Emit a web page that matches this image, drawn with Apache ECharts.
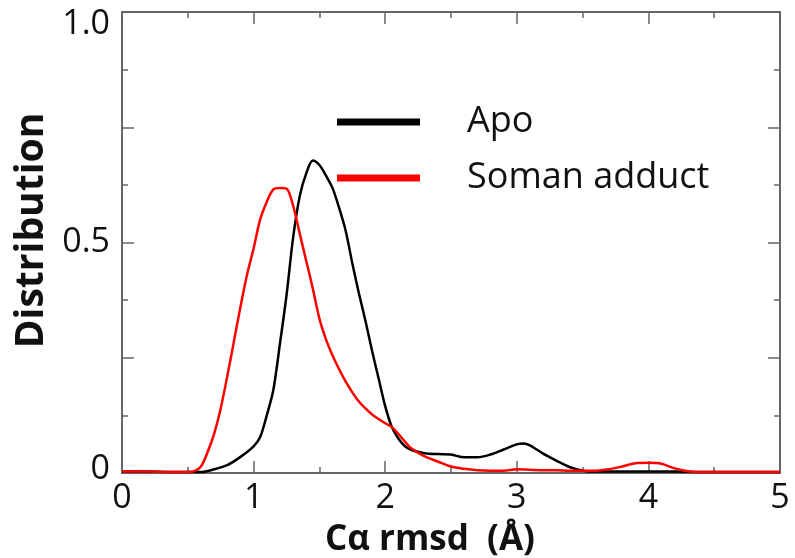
<!DOCTYPE html>
<html>
<head>
<meta charset="utf-8">
<script src="https://cdn.jsdelivr.net/npm/echarts@6/dist/echarts.min.js"></script>
<style>
  html, body { margin: 0; padding: 0; background: #fff; }
  #chart { width: 795px; height: 558px; }
</style>
</head>
<body>
<div id="chart"></div>
<script>
// Cα rmsd distributions (Å) for the apo enzyme and the soman adduct
const apoRmsd = [0, 0.2, 0.4, 0.5, 0.6, 0.7, 0.8, 0.9, 1.0, 1.05, 1.1, 1.15, 1.2, 1.25, 1.3, 1.35, 1.4, 1.45, 1.5, 1.55, 1.6, 1.65, 1.7, 1.75, 1.8, 1.85, 1.9, 1.95, 2.0, 2.05, 2.1, 2.15, 2.2, 2.3, 2.4, 2.5, 2.6, 2.7, 2.8, 2.9, 3.0, 3.05, 3.1, 3.2, 3.3, 3.4, 3.5, 3.6, 3.8, 4.0, 4.2, 4.4, 4.6, 4.8, 5.0];
const apoDist = [0.004, 0.003, 0.002, 0.002, 0.002, 0.008, 0.017, 0.035, 0.058, 0.078, 0.125, 0.18, 0.28, 0.385, 0.51, 0.6, 0.65, 0.678, 0.668, 0.645, 0.618, 0.575, 0.525, 0.455, 0.39, 0.33, 0.265, 0.205, 0.145, 0.1, 0.075, 0.058, 0.05, 0.043, 0.041, 0.04, 0.034, 0.034, 0.04, 0.051, 0.062, 0.064, 0.06, 0.042, 0.027, 0.013, 0.005, 0.003, 0.003, 0.003, 0.003, 0.002, 0.002, 0.002, 0.002];

const somanRmsd = [0, 0.2, 0.4, 0.5, 0.55, 0.6, 0.65, 0.7, 0.75, 0.8, 0.85, 0.9, 0.95, 1.0, 1.05, 1.1, 1.15, 1.2, 1.25, 1.3, 1.35, 1.4, 1.45, 1.5, 1.55, 1.6, 1.65, 1.7, 1.75, 1.8, 1.85, 1.9, 1.95, 2.0, 2.05, 2.1, 2.15, 2.2, 2.3, 2.4, 2.5, 2.6, 2.7, 2.8, 2.9, 3.0, 3.1, 3.2, 3.3, 3.4, 3.5, 3.6, 3.7, 3.8, 3.9, 4.0, 4.1, 4.2, 4.3, 4.4, 4.6, 5.0];
const somanDist = [0.004, 0.003, 0.002, 0.002, 0.004, 0.014, 0.045, 0.085, 0.14, 0.21, 0.285, 0.36, 0.43, 0.487, 0.55, 0.588, 0.615, 0.618, 0.617, 0.58, 0.52, 0.46, 0.4, 0.335, 0.29, 0.255, 0.225, 0.198, 0.175, 0.155, 0.14, 0.127, 0.117, 0.108, 0.1, 0.085, 0.068, 0.053, 0.036, 0.025, 0.014, 0.009, 0.006, 0.005, 0.005, 0.008, 0.007, 0.006, 0.006, 0.005, 0.005, 0.005, 0.008, 0.014, 0.021, 0.022, 0.02, 0.01, 0.004, 0.002, 0.002, 0.002];

const seriesNames = ['Apo', 'Soman adduct'];
const seriesColors = ['#000000', '#ff0000'];
const xTickLabels = ['0', '1', '2', '3', '4', '5'];
const yTickLabels = { 0: '0', 0.5: '0.5', 1: '1.0' };

const pairs = (xs, ys) => xs.map((x, i) => [x, ys[i]]);

const frameColor = '#666';
const textFont = '"Open Sans", "DejaVu Sans", sans-serif';

// fresh style objects for every axis of the box frame
const axisLineOpt = () => ({ show: true, onZero: false, lineStyle: { color: frameColor, width: 2 } });
const axisTickOpt = () => ({ show: true, inside: true, length: 12, lineStyle: { color: frameColor, width: 1.5 } });
const minorTickOpt = () => ({ show: true, splitNumber: 2, length: 6, lineStyle: { color: frameColor, width: 1.5 } });

const chart = echarts.init(document.getElementById('chart'), null, { renderer: 'canvas' });
chart.setOption({
  animation: false,
  backgroundColor: '#fff',
  grid: { left: 122, right: 15, top: 12, bottom: 85, containLabel: false, outerBoundsMode: 'none' },
  legend: {
    orient: 'vertical',
    left: 337,
    top: 102,
    padding: 0,
    itemWidth: 83,
    itemHeight: 7,
    itemGap: 16,
    icon: 'rect',
    textStyle: { fontFamily: textFont, fontSize: 36, color: '#111', lineHeight: 40, padding: [0, 0, 0, 42] },
    data: seriesNames
  },
  xAxis: [
    {
      type: 'value', min: 0, max: 5, interval: 1, position: 'bottom',
      name: 'Cα rmsd  (Å)', nameLocation: 'middle', nameGap: 50,
      nameTextStyle: { fontFamily: textFont, fontSize: 35, fontWeight: 'bold', color: '#111', padding: [0, 42, 0, 0] },
      axisLine: axisLineOpt(), axisTick: axisTickOpt(), minorTick: minorTickOpt(), splitLine: { show: false },
      axisLabel: { margin: 8, fontFamily: textFont, fontSize: 34, color: '#111',
        formatter: v => xTickLabels[Math.round(v)] }
    },
    {
      type: 'value', min: 0, max: 5, interval: 1, position: 'top',
      axisLine: axisLineOpt(), axisTick: axisTickOpt(), minorTick: minorTickOpt(), splitLine: { show: false },
      axisLabel: { show: false }
    }
  ],
  yAxis: [
    {
      type: 'value', min: 0, max: 1, interval: 0.25, position: 'left',
      name: 'Distribution', nameLocation: 'middle', nameGap: 68,
      nameTextStyle: { fontFamily: textFont, fontSize: 39, fontWeight: 'bold', color: '#111', padding: [0, 0, 0, 24] },
      axisLine: axisLineOpt(), axisTick: axisTickOpt(), minorTick: minorTickOpt(), splitLine: { show: false },
      axisLabel: {
        margin: 12, fontFamily: textFont, fontSize: 34, color: '#111',
        formatter: v => {
          if (yTickLabels[v] === undefined) return '';
          if (v === 1) return '{top|' + yTickLabels[v] + '}';
          if (v === 0) return '{low|' + yTickLabels[v] + '}';
          return yTickLabels[v];
        },
        rich: {
          top: { fontFamily: textFont, fontSize: 34, color: '#111', padding: [24, 0, 0, 0] },
          low: { fontFamily: textFont, fontSize: 34, color: '#111', padding: [0, 0, 8, 0] }
        }
      }
    },
    {
      type: 'value', min: 0, max: 1, interval: 0.25, position: 'right',
      axisLine: axisLineOpt(), axisTick: axisTickOpt(), minorTick: minorTickOpt(), splitLine: { show: false },
      axisLabel: { show: false }
    }
  ],
  series: [
    {
      name: seriesNames[0], type: 'line', data: pairs(apoRmsd, apoDist),
      symbol: 'none', smooth: 0.3, color: seriesColors[0],
      lineStyle: { color: seriesColors[0], width: 2.5 }, z: 3
    },
    {
      name: seriesNames[1], type: 'line', data: pairs(somanRmsd, somanDist),
      symbol: 'none', smooth: 0.3, color: seriesColors[1],
      lineStyle: { color: seriesColors[1], width: 2.5 }, z: 4
    }
  ]
});
</script>
</body>
</html>
